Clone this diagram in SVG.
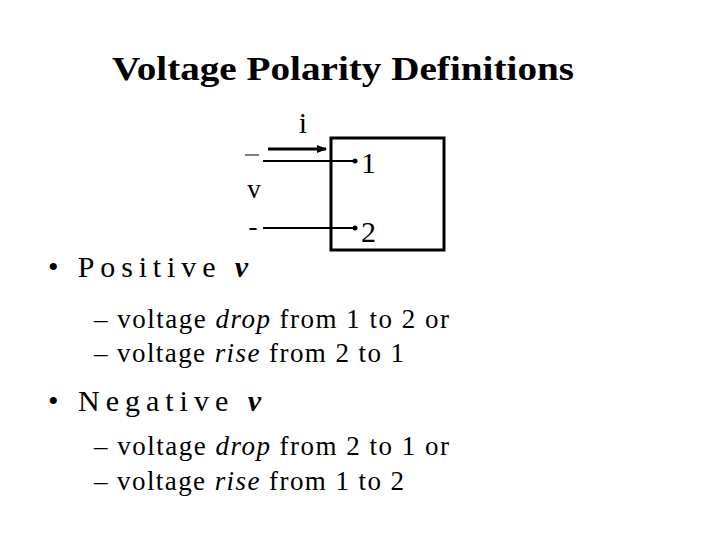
<svg xmlns="http://www.w3.org/2000/svg" width="720" height="540" viewBox="0 0 720 540">
<style>
.t{font-family:"Liberation Serif","DejaVu Serif",serif;fill:#000}
.w{stroke:#000;stroke-width:2;fill:none}
</style>
<defs><marker id="ah" markerWidth="10" markerHeight="8" refX="9" refY="4" orient="auto" markerUnits="userSpaceOnUse"><path d="M0,0L10,4L0,8z"/></marker></defs>
<rect width="720" height="540" fill="#fff"/>
<text class="t" x="112" y="80" font-size="34" font-weight="bold" textLength="462" lengthAdjust="spacingAndGlyphs">Voltage Polarity Definitions</text>
<g id="box"><rect x="331" y="138" width="113" height="112" fill="none" stroke="#000" stroke-width="3"/></g>
<g id="connectors">
<line class="w" x1="263" y1="161" x2="355" y2="161"/>
<line class="w" x1="263" y1="228" x2="355" y2="228"/>
<circle cx="355" cy="161" r="2.5"/>
<circle cx="355" cy="228" r="2.5"/>
<line x1="268" y1="149" x2="326" y2="149" stroke="#000" stroke-width="3" marker-end="url(#ah)"/>
</g>
<g id="labels">
<text class="t" x="303" y="133" font-size="30" text-anchor="middle">i</text>
<line x1="245" y1="155" x2="259" y2="155" stroke="#000" stroke-width="1"/>
<text class="t" x="254" y="198" font-size="27" text-anchor="middle">v</text>
<text class="t" x="253" y="235" font-size="27" text-anchor="middle">-</text>
<text class="t" x="361" y="173" font-size="30">1</text>
<text class="t" x="361" y="242" font-size="30">2</text>
</g>
<g id="text" class="t">
<text class="t" x="48" y="277" font-size="30" textLength="200">• Positive <tspan font-style="italic" font-weight="bold">v</tspan></text>
<text class="t" x="94" y="328" font-size="27" textLength="355">– voltage <tspan font-style="italic">drop</tspan> from 1 to 2 or</text>
<text class="t" x="94" y="362" font-size="27" textLength="310">– voltage <tspan font-style="italic">rise</tspan> from 2 to 1</text>
<text class="t" x="48" y="411" font-size="30" textLength="213">• Negative <tspan font-style="italic" font-weight="bold">v</tspan></text>
<text class="t" x="94" y="455" font-size="27" textLength="355">– voltage <tspan font-style="italic">drop</tspan> from 2 to 1 or</text>
<text class="t" x="94" y="490" font-size="27" textLength="310">– voltage <tspan font-style="italic">rise</tspan> from 1 to 2</text>
</g>
</svg>
